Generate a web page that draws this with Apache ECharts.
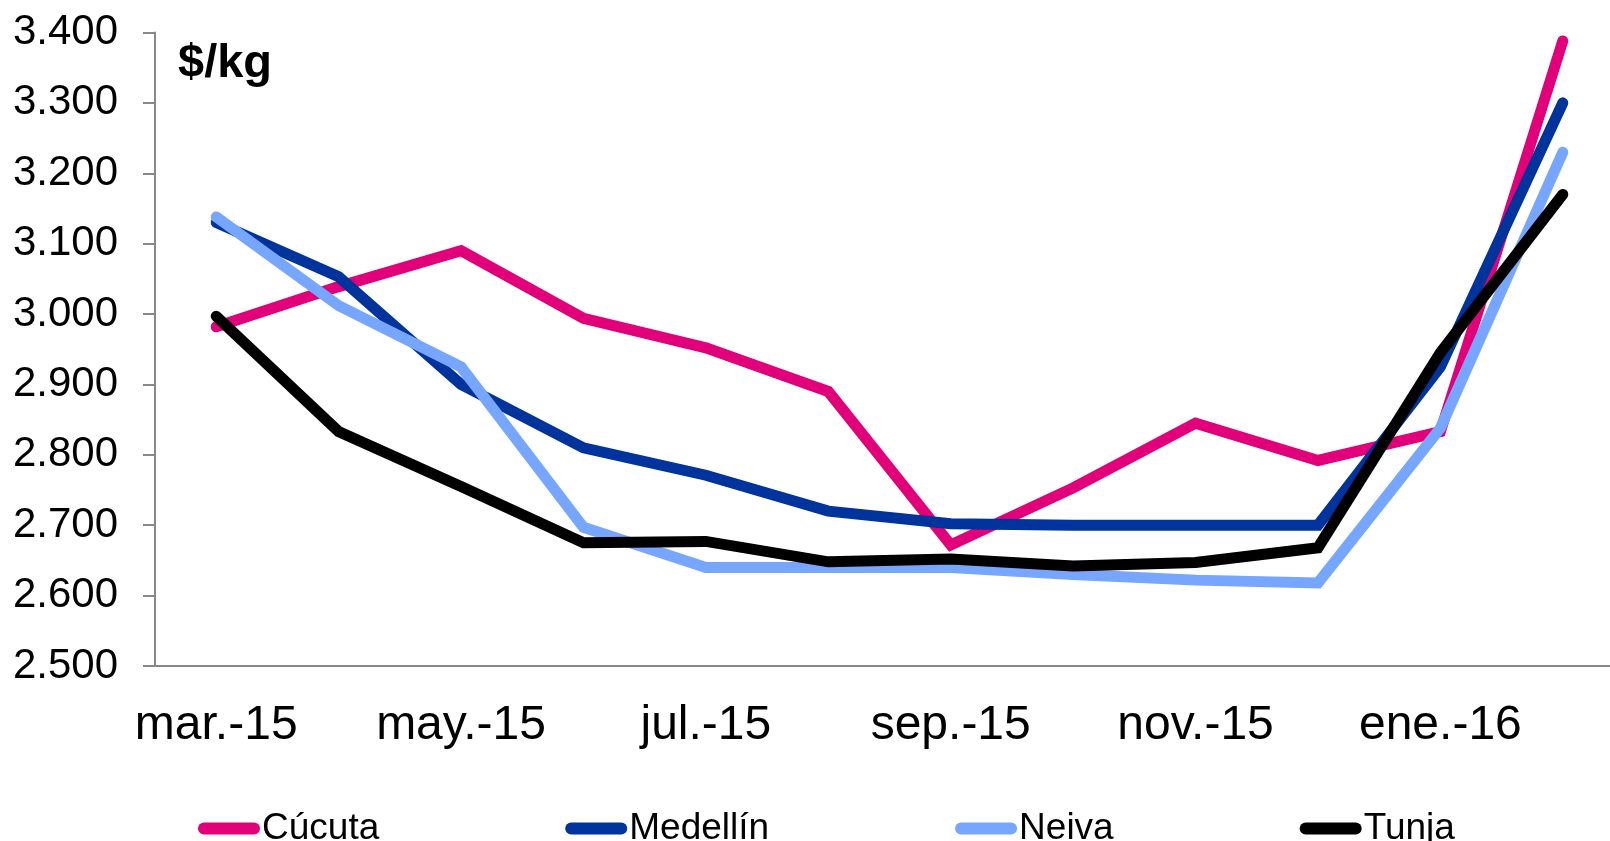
<!DOCTYPE html>
<html>
<head>
<meta charset="utf-8">
<script src="https://cdn.jsdelivr.net/npm/echarts@6/dist/echarts.min.js"></script>
<style>
html,body{margin:0;padding:0;background:#fff;}
#chart{width:1610px;height:841px;}
</style>
</head>
<body>
<div id="chart"></div>
<script>
const categories = ['mar.-15','abr.-15','may.-15','jun.-15','jul.-15','ago.-15','sep.-15','oct.-15','nov.-15','dic.-15','ene.-16','feb.-16'];
const cucuta   = [2982, 3039, 3090, 2994, 2952, 2890, 2672, 2753, 2845, 2792, 2833, 3388];
const medellin = [3130, 3053, 2900, 2810, 2771, 2720, 2702, 2700, 2700, 2700, 2925, 3300];
const neiva    = [3138, 3012, 2925, 2697, 2640, 2640, 2640, 2630, 2622, 2618, 2838, 3230];
const tunja    = [2997, 2833, 2755, 2675, 2677, 2648, 2652, 2642, 2647, 2668, 2945, 3170];
const seriesNames = ['Cúcuta','Medellín','Neiva','Tunja'];
const colors = ['#E2007A','#00349C','#76A6FF','#000000'];
const unitLabel = '$/kg';

const FONT = "'Liberation Sans', Arial, sans-serif";
const chart = echarts.init(document.getElementById('chart'), null, {renderer:'canvas'});
const dataSets = [cucuta, medellin, neiva, tunja];

function fmt(v){
  return String(v).replace(/\B(?=(\d{3})+(?!\d))/g, '.');
}

chart.setOption({
  animation:false,
  backgroundColor:'#ffffff',
  title:{
    text: unitLabel,
    left: 178, top: 41, padding: 0,
    textStyle:{fontFamily:FONT, fontSize:47, fontWeight:'bold', color:'#000'}
  },
  legend:{
    left: 193, top: 805,
    itemWidth: 62, itemHeight: 12, itemGap: 186,
    icon: 'path://M6,0 L56,0 A6,6 0 0 1 56,12 L6,12 A6,6 0 0 1 6,0 Z',
    textStyle:{fontFamily:FONT, fontSize:37, color:'#000', padding:[0,0,0,-3]},
    data: seriesNames
  },
  grid:{left:155, top:32.5, width:1469, height:633.5, containLabel:false, outerBoundsMode:'none'},
  xAxis:{
    type:'category',
    data: categories,
    boundaryGap:true,
    axisLine:{lineStyle:{color:'#888888', width:2}},
    axisTick:{show:false},
    axisLabel:{interval:1, fontFamily:FONT, fontSize:48, color:'#000', margin:36, formatter:function(v){return v;}},
    splitLine:{show:false}
  },
  yAxis:{
    type:'value',
    min:2500, max:3400, interval:100,
    axisLine:{show:true, lineStyle:{color:'#888888', width:2}},
    axisTick:{show:true, length:12, lineStyle:{color:'#888888', width:2}},
    axisLabel:{fontFamily:FONT, fontSize:42, color:'#000', margin:37, formatter:fmt},
    splitLine:{show:false}
  },
  series: seriesNames.map(function(n,i){
    return {
      name:n, type:'line', data:dataSets[i],
      showSymbol:false, symbol:'none',
      itemStyle:{color:colors[i]},
      lineStyle:{color:colors[i], width:11, cap:'round', join:'miter'},
      z: 2+i
    };
  })
});
</script>
</body>
</html>
